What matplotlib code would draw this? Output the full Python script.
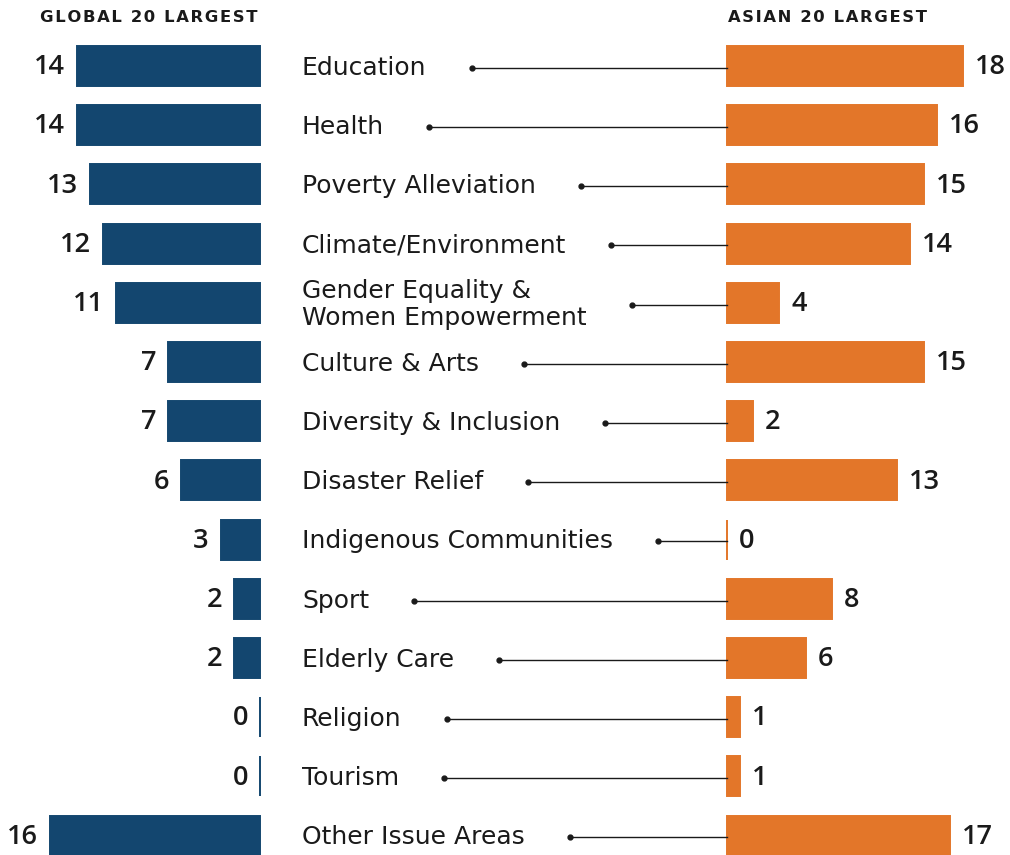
import matplotlib
matplotlib.use("Agg")
import matplotlib.pyplot as plt
from matplotlib.transforms import blended_transform_factory

categories = ["Education", "Health", "Poverty Alleviation", "Climate/Environment",
              "Gender Equality &\nWomen Empowerment", "Culture & Arts",
              "Diversity & Inclusion", "Disaster Relief", "Indigenous Communities",
              "Sport", "Elderly Care", "Religion", "Tourism", "Other Issue Areas"]
global_vals = [14, 14, 13, 12, 11, 7, 7, 6, 3, 2, 2, 0, 0, 16]
asian_vals = [18, 16, 15, 14, 4, 15, 2, 13, 0, 8, 6, 1, 1, 17]

BLUE = "#13466f"
ORANGE = "#e37629"
TEXT = "#1a1a1a"
FONT = "DejaVu Sans"
NUMFONT = ["Open Sans", "DejaVu Sans"]

W, H = 1010, 855
fig = plt.figure(figsize=(W / 100, H / 100), dpi=100)
fig.patch.set_facecolor("white")

px_per_unit = 13.1
row_step = 59.2
top_center = 66
n = len(categories)
ylim = ((H - top_center) / row_step, -top_center / row_step)

# left axes: pixels 0..260, inverted
ax_l = fig.add_axes([0, 0, 260 / W, 1])
ax_l.set_xlim(260 / px_per_unit, 0)
ax_l.set_ylim(*ylim)
# right axes: pixels 727..1010
ax_r = fig.add_axes([727 / W, 0, (W - 727) / W, 1])
ax_r.set_xlim(0, (W - 727) / px_per_unit)
ax_r.set_ylim(*ylim)
for ax in (ax_l, ax_r):
    ax.axis("off")

rows = list(range(n))
bh = 40 / row_step
bl = ax_l.barh(rows, global_vals, height=bh, color=BLUE, edgecolor=BLUE, linewidth=1.4)
br = ax_r.barh(rows, asian_vals, height=bh, color=ORANGE, edgecolor=ORANGE, linewidth=1.4)
for p in list(bl) + list(br):
    p.set_clip_on(False)

off = 12 / px_per_unit
for i, v in enumerate(global_vals):
    ax_l.text(v + off, i + 0.02, str(v), ha="right", va="center", fontsize=19.5,
              fontfamily=NUMFONT, fontweight="semibold", color=TEXT)
for i, v in enumerate(asian_vals):
    ax_r.text(v + off, i + 0.02, str(v), ha="left", va="center", fontsize=19.5,
              fontfamily=NUMFONT, fontweight="semibold", color=TEXT)

hs = "\u200a"
fig.text(40 / W, 1 - 18 / H, hs.join("GLOBAL 20 LARGEST"), ha="left", va="center",
         fontsize=11.8, fontweight="bold", fontfamily=FONT, color=TEXT)
fig.text(728 / W, 1 - 18 / H, hs.join("ASIAN 20 LARGEST"), ha="left", va="center",
         fontsize=11.8, fontweight="bold", fontfamily=FONT, color=TEXT)

# category labels in the middle, with leader lines to the orange bars
trans = blended_transform_factory(fig.transFigure, ax_r.transData)
labels = []
for i, c in enumerate(categories):
    t = fig.text(302 / W, i + 0.03, c, transform=trans, ha="left", va="center",
                 fontsize=18, fontfamily=FONT, color=TEXT, linespacing=1.15)
    labels.append(t)

fig.canvas.draw()
renderer = fig.canvas.get_renderer()
for i, t in enumerate(labels):
    bb = t.get_window_extent(renderer)
    x0 = (bb.x1 + 45) / W
    fig.add_artist(plt.Line2D([x0, 727 / W], [i + 0.03, i + 0.03], transform=trans,
                              color=TEXT, linewidth=1.0))
    fig.add_artist(plt.Line2D([x0], [i + 0.03], transform=trans, marker="o",
                              markersize=3.5, color=TEXT, linestyle="none"))

fig.savefig("out.png", dpi=100, facecolor="white")
